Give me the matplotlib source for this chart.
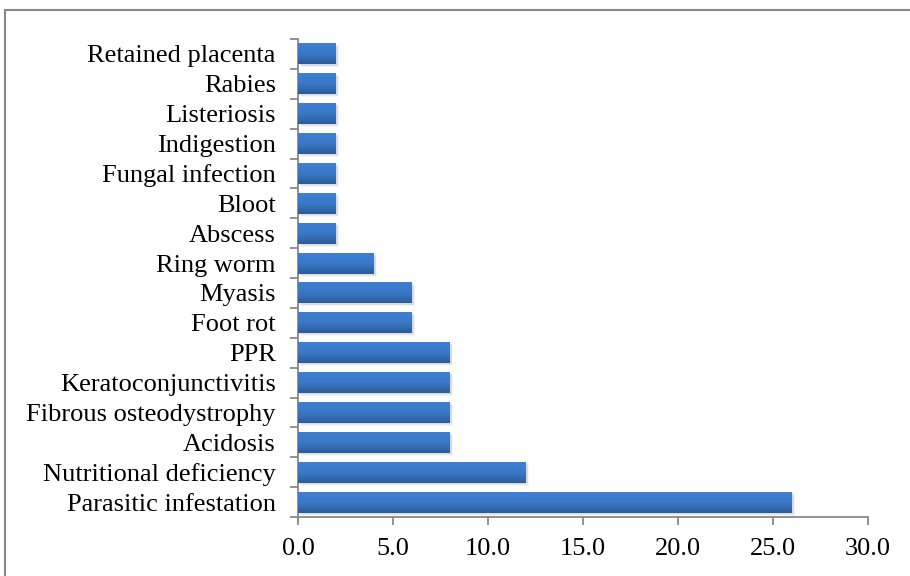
import numpy as np
import matplotlib
matplotlib.use("Agg")
import matplotlib.pyplot as plt
from matplotlib.patches import Rectangle
from matplotlib.colors import LinearSegmentedColormap

categories = ["Parasitic infestation", "Nutritional deficiency", "Acidosis",
              "Fibrous osteodystrophy", "Keratoconjunctivitis", "PPR", "Foot rot",
              "Myasis", "Ring worm", "Abscess", "Bloot", "Fungal infection",
              "Indigestion", "Listeriosis", "Rabies", "Retained placenta"]
values = [26, 12, 8, 8, 8, 8, 6, 6, 4, 2, 2, 2, 2, 2, 2, 2]
xticks = [0, 5, 10, 15, 20, 25, 30]

plt.rcParams['font.family'] = ['Liberation Serif', 'DejaVu Serif']

fig = plt.figure(figsize=(9.1, 5.76), dpi=100)
ax = fig.add_axes([298/910, 1-517/576, (868-298)/910, (517-39)/576])

# outer chart frame
fig.patches.append(Rectangle((5/910, -0.05), 1.1, 1-10/576+0.05,
                             transform=fig.transFigure, fill=False,
                             edgecolor='#888888', linewidth=1.5, zorder=0))

ypos = np.arange(len(categories))
h = 0.7
bars = ax.barh(ypos, values, height=h, color='none', edgecolor='none', zorder=3)

# vertical gradient: darker at the bottom edge, lighter at the top
cmap = LinearSegmentedColormap.from_list('bar', ['#2c5c9a', '#3a78c6', '#3e80d2'])
grad = np.linspace(0, 1, 64).reshape(-1, 1)
for b in bars:
    x0, y0 = b.get_x(), b.get_y()
    w, hh = b.get_width(), b.get_height()
    # soft drop shadow
    for k, a in enumerate([0.06, 0.05, 0.04]):
        ax.add_patch(Rectangle((x0 + 0.08 + 0.04 * k, y0 - 0.04 - 0.03 * k), w, hh,
                               facecolor='#000000', alpha=a, edgecolor='none', zorder=2))
    im = ax.imshow(grad, cmap=cmap, aspect='auto', origin='lower',
                   extent=(x0, x0 + w, y0, y0 + hh), zorder=3,
                   interpolation='bilinear')
    im.set_clip_path(b)

ax.set_xlim(0, 30)
ax.set_ylim(-0.5, len(categories) - 0.5)
ax.set_xticks(xticks)
ax.set_xticklabels([f"{v:.1f}" for v in xticks])
ax.set_yticks(ypos)
ax.set_yticklabels(categories)
ax.set_yticks(np.arange(-0.5, len(categories)), minor=True)
ax.tick_params(axis='y', which='major', length=0, pad=16, labelsize=19)
ax.tick_params(axis='y', which='minor', length=6, width=1.3, color='#888888')
ax.tick_params(axis='x', length=6, width=1.3, color='#888888', labelsize=19, pad=9)

for s in ['top', 'right']:
    ax.spines[s].set_visible(False)
for s in ['left', 'bottom']:
    ax.spines[s].set_color('#888888')
    ax.spines[s].set_linewidth(1.3)

fig.savefig('out.png', dpi=100)
